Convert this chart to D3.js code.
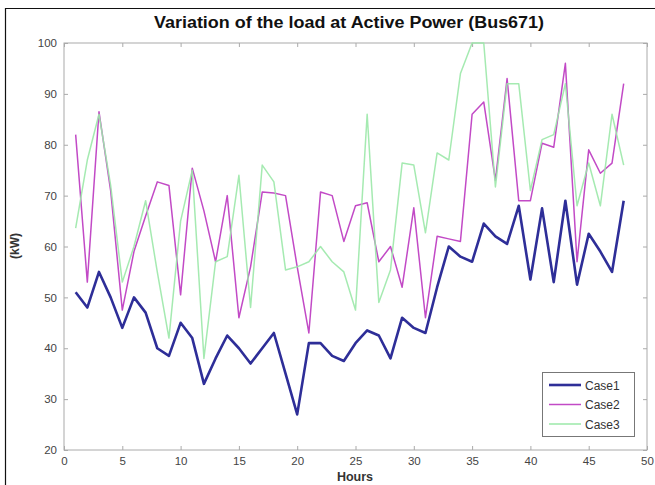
<!DOCTYPE html>
<html><head><meta charset="utf-8">
<script src="https://cdnjs.cloudflare.com/ajax/libs/d3/7.8.5/d3.min.js"></script>
<style>
html,body{margin:0;padding:0;background:#fff;}
svg{display:block;font-family:"Liberation Sans",Arial,sans-serif;}
</style></head>
<body>
<svg id="chart" width="655" height="485"></svg>
<script>
const hours = d3.range(1, 49);
const case1 = [51,48,55,50,44,50,47,40,38.5,45,42,33,38,42.5,40,37,40,43,35,27,41,41,38.5,37.5,41,43.5,42.5,38,46,44,43,52,60,58,57,64.5,62,60.5,68,53.5,67.5,53,69,52.5,62.5,59,55,69];
const case2 = [82,53,86.5,71,47.5,59,66,72.7,72,50.5,75.4,67,57,70,46,56,70.7,70.5,70,56,43,70.7,70,61,68,68.6,57,60,52,67.6,46,62,61.5,61,86,88.4,73,93,69,69,80.3,79.5,96,57,79,74.4,76.4,92];
const case3 = [63.6,77,86,72,53,60,69,55,42,65,75,38,57,58,74,48,76,72.7,55.4,56,57,60,57,55,47.5,86,49,55.4,76.4,76,62.7,78.4,77,94,100,100,71.7,92,92,71,81,82,92,68,76.4,68,86,76];
const seriesNames = ["Case1","Case2","Case3"];
const seriesColors = ["#2e2e98","#c24ac6","#9be8a8"];
const seriesWidths = [2.6,1.5,1.5];
const xTicks = [0,5,10,15,20,25,30,35,40,45,50];
const yTicks = [20,30,40,50,60,70,80,90,100];
const titleText = "Variation of the load at Active Power (Bus671)";
const xLabel = "Hours", yLabel = "(kW)";

const svg = d3.select("#chart");
const m = {l:64, t:43, r:647, b:450};
const x = d3.scaleLinear().domain([0,50]).range([m.l, m.r]);
const y = d3.scaleLinear().domain([20,100]).range([m.b, m.t]);

svg.append("path").attr("d","M5.5,485 V8.5 H655").attr("fill","none").attr("stroke","#111").attr("stroke-width",1.2);

svg.append("rect").attr("x",m.l).attr("y",m.t).attr("width",m.r-m.l).attr("height",m.b-m.t)
  .attr("fill","none").attr("stroke","#aaa").attr("stroke-width",1);

const axB = d3.axisBottom(x).tickValues(xTicks).tickSize(-4).tickPadding(7);
const axT = d3.axisTop(x).tickValues(xTicks).tickSize(-4).tickFormat("");
const axL = d3.axisLeft(y).tickValues(yTicks).tickSize(-4).tickPadding(7);
const axR = d3.axisRight(y).tickValues(yTicks).tickSize(-4).tickFormat("");
function style(g){ g.select(".domain").remove(); g.selectAll("line").attr("stroke","#aaa");
  g.selectAll("text").attr("fill","#444").attr("font-size","11.5px"); }
svg.append("g").attr("transform",`translate(0,${m.b})`).call(axB).call(style);
svg.append("g").attr("transform",`translate(0,${m.t})`).call(axT).call(style);
svg.append("g").attr("transform",`translate(${m.l},0)`).call(axL).call(style);
svg.append("g").attr("transform",`translate(${m.r},0)`).call(axR).call(style);

const line = d3.line().x((d,i)=>x(hours[i])).y(d=>y(d));
const data = [case1, case2, case3];
data.forEach((s,k)=>{
  svg.append("path").datum(s).attr("d",line).attr("fill","none")
    .attr("stroke",seriesColors[k]).attr("stroke-width",seriesWidths[k])
    .attr("stroke-linejoin","round").attr("opacity", k===2?0.9:1);
});

svg.append("text").attr("x",349).attr("y",28).attr("text-anchor","middle")
  .attr("font-weight","bold").attr("font-size","16px").attr("fill","#111")
  .attr("textLength",390).attr("lengthAdjust","spacingAndGlyphs").text(titleText);
svg.append("text").attr("x",355).attr("y",481).attr("text-anchor","middle")
  .attr("font-weight","bold").attr("font-size","12.5px").attr("fill","#333").text(xLabel);
svg.append("text").attr("transform","translate(19,246) rotate(-90)").attr("text-anchor","middle")
  .attr("font-weight","bold").attr("font-size","12px").attr("fill","#333").text(yLabel);

const lg = svg.append("g");
lg.append("rect").attr("x",542.5).attr("y",372.5).attr("width",92).attr("height",64)
  .attr("fill","#fff").attr("stroke","#777").attr("stroke-width",1);
seriesNames.forEach((n,k)=>{
  const yy = 385 + k*19.5;
  lg.append("line").attr("x1",549).attr("x2",581).attr("y1",yy).attr("y2",yy)
    .attr("stroke",seriesColors[k]).attr("stroke-width",seriesWidths[k]);
  lg.append("text").attr("x",585).attr("y",yy+4.5).attr("font-size","12px").attr("fill","#333").text(n);
});
</script>
</body></html>
